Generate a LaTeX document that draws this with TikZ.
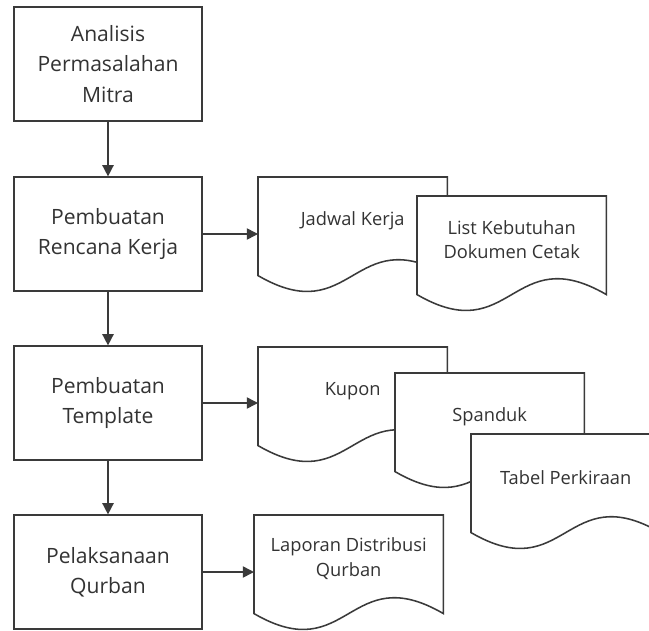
\documentclass[tikz,border=0pt]{standalone}
\usepackage{fontspec}
\setmainfont{Open Sans}
\usetikzlibrary{positioning}
\usetikzlibrary{arrows.meta}
\usetikzlibrary{calc}
\definecolor{linegray}{HTML}{3A3A3A}
\definecolor{textgray}{HTML}{333333}
\tikzset {
  % process steps on the left
  proc/.style = {draw=linegray, line width=1.1pt, fill=white, minimum width=4.7cm,
    minimum height=2.84cm, align=center, text=textgray, font=\fontsize{15}{21.5}\selectfont},
  % document frame, the outline is drawn afterwards
  doc/.style = {minimum width=4.72cm, minimum height=2.45cm, inner sep=0pt, anchor=north west},
  docline/.style = {draw=linegray, line width=1.1pt, fill=white},
  doctext/.style = {align=center, text=textgray, font=\fontsize{13}{17.5}\selectfont},
  % connectors
  flow/.style = {linegray, line width=1.1pt},
  >={Triangle[length=8pt, width=8pt]},
}
% document symbol with a wavy bottom
\newcommand{\docnode}[3]{%
  \node[doc] (#1) at (#2) {};
  \draw[docline] (#1.north west) -- (#1.north east) -- (#1.south east)
    .. controls ($(#1.south)+(0,-55)$) and ($(#1.south)+(0,55)$) .. (#1.south west) -- cycle;
  \node[doctext] (#1-text) at ([yshift=4pt]#1.center) {#3};
}

\begin{document}
\begin{tikzpicture}[x=0.025cm, y=-0.025cm]
      \useasboundingbox (0,0) rectangle (649,630);

      \node[proc] (amp) at (108, 64)  {Analisis\\Permasalahan\\Mitra};
      \node[proc] (rk)  at (108, 234) {Pembuatan\\Rencana Kerja};
      \node[proc] (tpl) at (108, 403) {Pembuatan\\Template};
      \node[proc] (plk) at (108, 572) {Pelaksanaan\\Qurban};

      \docnode{jw}{258, 177}{Jadwal Kerja}
      \docnode{lk}{417, 196}{List Kebutuhan\\Dokumen Cetak}

      \docnode{kp}{258, 347}{Kupon}
      \docnode{sp}{395, 373}{Spanduk}
      \docnode{tp}{471, 434}{Tabel Perkiraan}

      \docnode{lap}{254, 515}{Laporan Distribusi\\Qurban}

      \draw [flow, ->] (amp) -- (rk);
      \draw [flow, ->] (rk) -- (tpl);
      \draw [flow, ->] (tpl) -- (plk);

      \draw [flow, ->] (rk) -- (rk -| jw.west);
      \draw [flow, ->] (tpl) -- (tpl -| kp.west);
      \draw [flow, ->] (plk) -- (plk -| lap.west);
    \end{tikzpicture}
\end{document}
